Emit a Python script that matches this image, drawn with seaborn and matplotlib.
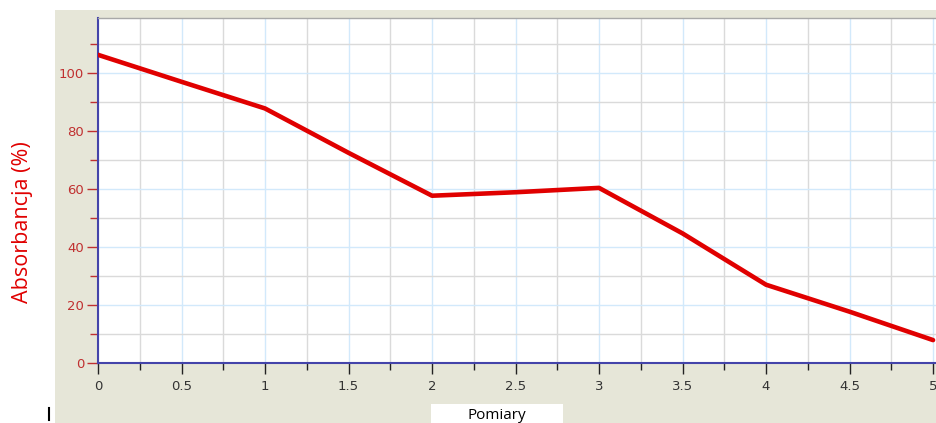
import matplotlib
matplotlib.use("Agg")
import matplotlib.pyplot as plt
from matplotlib.patches import Rectangle
from matplotlib.lines import Line2D
from matplotlib.ticker import MultipleLocator
import numpy as np
import pandas as pd
import seaborn as sns

# Measurement series
pomiar = [0, 0.5, 1, 1.5, 2, 2.5, 3, 3.5, 4, 4.5, 5]
absorbancja = [106.3, 97.0, 87.8, 72.5, 57.7, 58.9, 60.4, 44.7, 27.0, 17.7, 7.9]

x_ticks = [0, 0.5, 1, 1.5, 2, 2.5, 3, 3.5, 4, 4.5, 5]
x_tick_labels = ["0", "0.5", "1", "1.5", "2", "2.5", "3", "3.5", "4", "4.5", "5"]
y_ticks = [0, 20, 40, 60, 80, 100]
y_tick_labels = ["0", "20", "40", "60", "80", "100"]

df = pd.DataFrame({"Pomiary": pomiar, "Absorbancja": absorbancja})

W, H = 936, 423
fig = plt.figure(figsize=(W / 100, H / 100), dpi=100, facecolor="white")

# beige panel behind the chart
fig.add_artist(Rectangle((55 / W, 0), (W - 55) / W, (H - 10) / H,
                         transform=fig.transFigure, facecolor="#E6E6D8",
                         edgecolor="none", zorder=0))

ax = fig.add_axes([98 / W, (H - 363) / H, 838.4 / W, 345 / H])
ax.set_facecolor("white")

sns.lineplot(data=df, x="Pomiary", y="Absorbancja", ax=ax, color="#E00000",
             linewidth=3.3, solid_capstyle="round", solid_joinstyle="round",
             zorder=5)

ax.set_xlim(0, 5.02)
ax.set_ylim(0, 119)

ax.set_xticks(x_ticks)
ax.set_xticklabels(x_tick_labels)
ax.set_yticks(y_ticks)
ax.set_yticklabels(y_tick_labels)
ax.xaxis.set_minor_locator(MultipleLocator(0.25))
ax.yaxis.set_minor_locator(MultipleLocator(10))

# grid: light blue on major, grey on minor
ax.grid(True, which="major", color="#D2E9FB", linewidth=1.0, zorder=0)
ax.grid(True, which="minor", color="#DADADA", linewidth=1.0, zorder=0)
ax.set_axisbelow(True)

ax.tick_params(axis="y", which="major", direction="out", length=8, width=1,
               colors="#C03030", labelsize=9.5, pad=2)
ax.tick_params(axis="y", which="minor", direction="out", length=6, width=1,
               color="#C03030")
ax.tick_params(axis="x", which="major", direction="out", length=8, width=1,
               color="#222222", labelcolor="#333333", labelsize=9.5, pad=4)
ax.tick_params(axis="x", which="minor", direction="out", length=5, width=1,
               color="#222222")

for lab in ax.get_yticklabels() + ax.get_xticklabels():
    lab.set_fontfamily("DejaVu Sans")

ax.spines["left"].set_color("#4444AA")
ax.spines["left"].set_linewidth(1.5)
ax.spines["bottom"].set_color("#4444AA")
ax.spines["bottom"].set_linewidth(1.5)
ax.spines["top"].set_color("#A8A8A8")
ax.spines["top"].set_linewidth(1.0)
ax.spines["right"].set_visible(False)

ax.set_xlabel("")
ax.set_ylabel("Absorbancja (%)", color="#E00000", fontsize=15.5,
              fontfamily="Open Sans")
ax.yaxis.set_label_coords(-0.0776, 0.409)

# x-axis caption in a white box at the bottom edge
fig.add_artist(Rectangle((431 / W, 0), 132 / W, 19 / H,
                         transform=fig.transFigure, facecolor="white",
                         edgecolor="none", zorder=1))
fig.text(497 / W, 4.5 / H, "Pomiary", ha="center", va="baseline",
         fontsize=11, fontfamily="Open Sans", color="black", zorder=2)

fig.add_artist(Line2D([49 / W, 49 / W], [3 / H, 15 / H],
                      transform=fig.transFigure, color="black", linewidth=1.5))

fig.savefig("out.png", dpi=100, facecolor="white")
